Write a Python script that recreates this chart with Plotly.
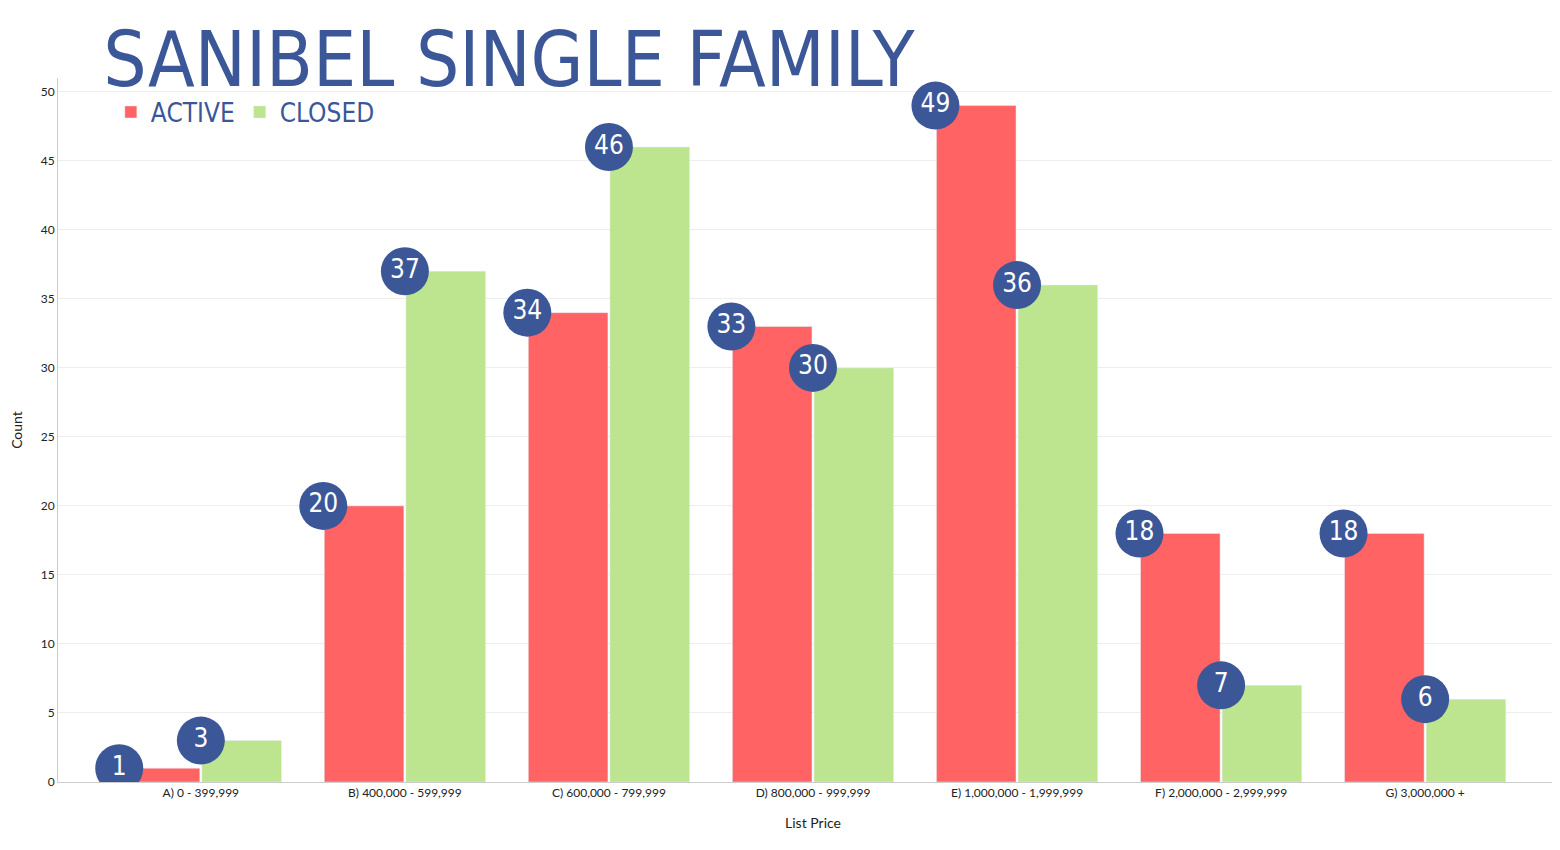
import plotly.graph_objects as go

categories = ["A) 0 - 399,999", "B) 400,000 - 599,999", "C) 600,000 - 799,999",
              "D) 800,000 - 999,999", "E) 1,000,000 - 1,999,999",
              "F) 2,000,000 - 2,999,999", "G) 3,000,000 +"]
active = [1, 20, 34, 33, 49, 18, 18]
closed = [3, 37, 46, 30, 36, 7, 6]

RED = "#ff6363"
GREEN = "#bde48f"
BLUE = "#3b5798"
cond = "Liberation Sans Narrow, DejaVu Sans Condensed, sans-serif"

idx = list(range(len(categories)))
fig = go.Figure()
fig.add_trace(go.Bar(x=[i - 0.2 for i in idx], y=active, width=0.39, name="ACTIVE",
                     marker=dict(color=RED)))
fig.add_trace(go.Bar(x=[i + 0.2 for i in idx], y=closed, width=0.39, name="CLOSED",
                     marker=dict(color=GREEN)))

# number badges at the top-left corner of each bar
for xs, vals in (([i - 0.4 for i in idx], active), (idx, closed)):
    fig.add_trace(go.Scatter(
        x=xs, y=vals, mode="markers+text", text=[str(v) for v in vals],
        textposition="middle center", showlegend=False, hoverinfo="skip",
        marker=dict(size=48, color=BLUE),
        textfont=dict(color="white", size=26, family=cond),
    ))

fig.update_layout(
    width=1560, height=850,
    paper_bgcolor="white", plot_bgcolor="white",
    margin=dict(l=50, r=0, t=70, b=76),
    barmode="overlay",
    font=dict(family="Lato, sans-serif", size=12, color="#222"),
    title=dict(text="SANIBEL SINGLE FAMILY", x=0.061, xanchor="left", y=0.94, yanchor="middle",
               font=dict(family=cond, size=76, color=BLUE)),
    legend=dict(orientation="h", x=0.035, y=0.985, xanchor="left", yanchor="top",
                font=dict(family=cond, size=26, color=BLUE), bgcolor="rgba(0,0,0,0)"),
    xaxis=dict(range=[-0.7, 6.7], tickmode="array", tickvals=idx, ticktext=categories,
               title=dict(text="List Price", standoff=18), showgrid=False,
               showline=True, linecolor="#ccc", zeroline=False),
    yaxis=dict(range=[0, 51], dtick=5, title="Count", gridcolor="#eee",
               showline=True, linecolor="#ccc", zeroline=False),
)

fig.write_html("out.html")
